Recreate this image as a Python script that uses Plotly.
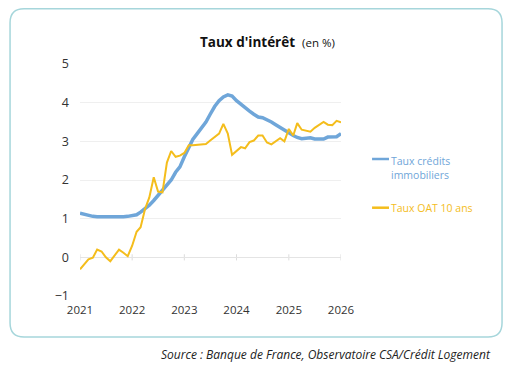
import plotly.graph_objects as go
import pandas as pd

dates = pd.date_range("2021-01-01", "2026-01-01", freq="MS")

taux_credits = [
    1.14, 1.11, 1.08, 1.06, 1.05, 1.05, 1.04, 1.04, 1.03, 1.03, 1.05, 1.06,
    1.07, 1.10, 1.17, 1.25, 1.35, 1.47, 1.60, 1.73, 1.86, 2.00, 2.20, 2.34,
    2.60, 2.85, 3.05, 3.20, 3.35, 3.50, 3.70, 3.90, 4.05, 4.15, 4.20, 4.17,
    4.05, 3.95, 3.86, 3.78, 3.70, 3.63, 3.61, 3.56, 3.50, 3.43, 3.35, 3.30,
    3.22, 3.15, 3.10, 3.07, 3.08, 3.09, 3.06, 3.07, 3.06, 3.11, 3.12, 3.12, 3.20,
]

taux_oat = [
    -0.31, -0.16, -0.05, -0.01, 0.20, 0.15, 0.00, -0.10, 0.05, 0.20, 0.12, 0.03,
    0.30, 0.66, 0.78, 1.25, 1.55, 2.07, 1.70, 1.68, 2.45, 2.75, 2.60, 2.63,
    2.70, 2.90, 2.90, 2.91, 2.93, 2.93, 3.02, 3.10, 3.20, 3.45, 3.20, 2.65,
    2.75, 2.85, 2.82, 2.98, 3.02, 3.15, 3.15, 2.97, 2.92, 3.00, 3.08, 3.00,
    3.32, 3.15, 3.47, 3.30, 3.27, 3.25, 3.35, 3.42, 3.50, 3.43, 3.42, 3.53, 3.49,
]

years = ["2021-01-01", "2022-01-01", "2023-01-01", "2024-01-01", "2025-01-01", "2026-01-01"]
year_labels = ["2021", "2022", "2023", "2024", "2025", "2026"]
y_ticks = [-1, 0, 1, 2, 3, 4, 5]

BLUE = "#6fa6d9"
YELLOW = "#f4bd1c"
FONT = "Open Sans"

fig = go.Figure()
fig.add_trace(go.Scatter(x=dates, y=taux_credits, mode="lines",
                         line=dict(color=BLUE, width=3.5), name="Taux crédits immobiliers"))
fig.add_trace(go.Scatter(x=dates, y=taux_oat, mode="lines",
                         line=dict(color=YELLOW, width=2), name="Taux OAT 10 ans"))

shapes = []
# small ticks on zero line
for yr in years:
    shapes.append(dict(type="line", xref="x", yref="y", x0=yr, x1=yr, y0=-0.08, y1=0.08,
                       line=dict(color="#dddddd", width=1), layer="below"))

# rounded border around the chart card
L, R, T, B = -0.268, 1.617, 1.238, -0.177
rx, ry = 14 / 261, 14 / 232
path = (f"M {L+rx},{T} L {R-rx},{T} Q {R},{T} {R},{T-ry} L {R},{B+ry} Q {R},{B} {R-rx},{B} "
        f"L {L+rx},{B} Q {L},{B} {L},{B+ry} L {L},{T-ry} Q {L},{T} {L+rx},{T} Z")
shapes.append(dict(type="path", xref="paper", yref="paper", path=path,
                   line=dict(color="#a6d6db", width=1.5)))

# legend samples
shapes.append(dict(type="line", xref="paper", yref="paper", x0=1.119, x1=1.184, y0=0.5905, y1=0.5905,
                   line=dict(color=BLUE, width=2.5)))
shapes.append(dict(type="line", xref="paper", yref="paper", x0=1.119, x1=1.184, y0=0.3806, y1=0.3806,
                   line=dict(color=YELLOW, width=2.5)))

annotations = [
    dict(text="<b>Taux d'intérêt</b>  <span style='font-size:11.5px'>(en %)</span>",
         xref="paper", yref="paper", x=0.72, y=1.095, xanchor="center", yanchor="middle",
         showarrow=False, font=dict(family=FONT, size=13.5, color="#111111")),
    dict(text="Taux crédits", xref="paper", yref="paper", x=1.184, y=0.5832, xanchor="left",
         yanchor="middle", showarrow=False, font=dict(family=FONT, size=10.5, color=BLUE)),
    dict(text="immobiliers", xref="paper", yref="paper", x=1.184, y=0.5216, xanchor="left",
         yanchor="middle", showarrow=False, font=dict(family=FONT, size=10.5, color=BLUE)),
    dict(text="Taux OAT 10 ans", xref="paper", yref="paper", x=1.184, y=0.3806, xanchor="left",
         yanchor="middle", showarrow=False, font=dict(family=FONT, size=10.5, color=YELLOW)),
    dict(text="<i>Source : Banque de France, Observatoire CSA/Crédit Logement</i>",
         xref="paper", yref="paper", x=1.582, y=-0.25, xanchor="right", yanchor="middle",
         showarrow=False, font=dict(family=FONT, size=12, color="#222222")),
]

fig.update_layout(
    width=512, height=373,
    margin=dict(l=80, r=171, t=64, b=77),
    plot_bgcolor="white", paper_bgcolor="white",
    showlegend=False,
    shapes=shapes, annotations=annotations,
    font=dict(family=FONT, size=12, color="#333333"),
)
fig.update_xaxes(range=["2021-01-01", "2026-01-01"], tickvals=years, ticktext=year_labels,
                 showgrid=False, zeroline=False, showline=False, ticks="",
                 ticklabelstandoff=5,
                 tickfont=dict(size=11.5, color="#333333"))
fig.update_yaxes(range=[-1, 5], tickvals=y_ticks, showgrid=True, gridcolor="#efefef",
                 gridwidth=1, zeroline=True, zerolinecolor="#e4e4e4", zerolinewidth=1,
                 showline=False, ticks="", ticklabelstandoff=10,
                 tickfont=dict(size=12.5, color="#333333"))

fig.write_html("out.html", config={"displayModeBar": False},
               post_script="document.body.style.margin='0';")
